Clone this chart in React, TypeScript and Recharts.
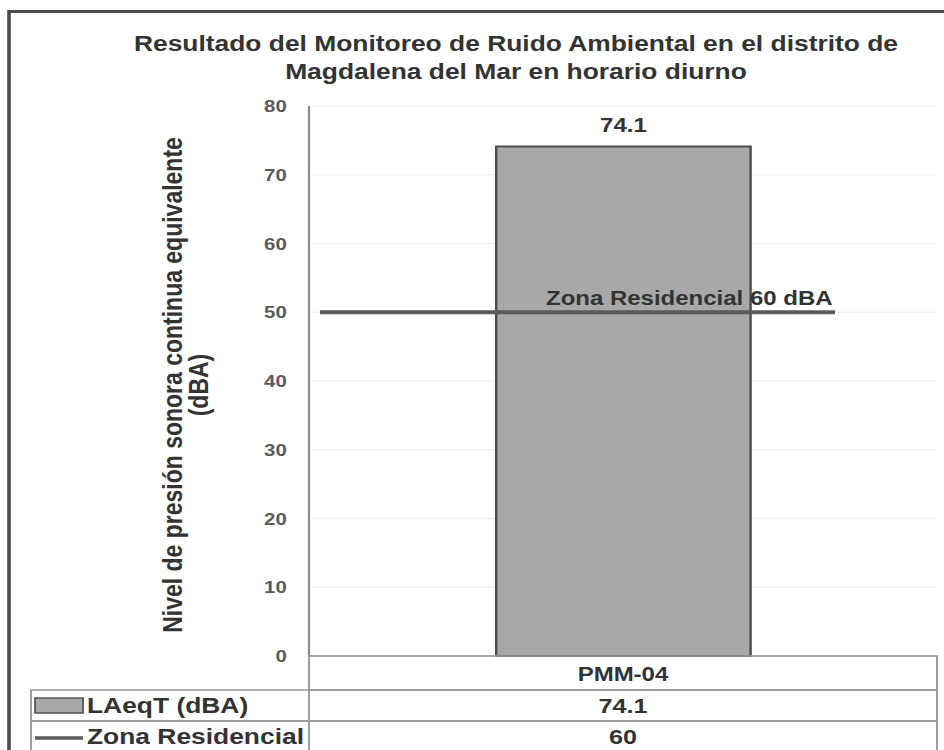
import React from 'react';
import { BarChart, Bar, XAxis, YAxis, CartesianGrid, ReferenceLine, LabelList } from 'recharts';

const categories = ['PMM-04'];
const laeqValues = [74.1];
const zonaResidencialValues = [60];
const zonaLineLevel = [50];
const yTicks = [0, 10, 20, 30, 40, 50, 60, 70, 80];
const seriesLabels = ['LAeqT (dBA)', 'Zona Residencial'];
const titleLines = [
  'Resultado del Monitoreo de Ruido Ambiental en el distrito de',
  'Magdalena del Mar en horario diurno',
];
const yTitleLines = ['Nivel de presión sonora continua equivalente', '(dBA)'];

const data = categories.map((c, i) => ({ name: c, laeq: laeqValues[i], zona: zonaResidencialValues[i] }));

const FONT = '"Liberation Sans", Arial, Helvetica, sans-serif';
const S = 1.2;
const W = 787;
const H = 750;
const PLOT_L = 257.5;
const PLOT_R = 780.8;
const PLOT_T = 106;
const PLOT_B = 656;
const YAXIS_W = 60;

const ZonaShape = (props: any) => {
  const { x1, x2, y1 } = props;
  const w = x2 - x1;
  const sx = x1 + w * 0.0176;
  const ex = x1 + w * 0.8376;
  return (
    <g>
      <line x1={sx} x2={ex} y1={y1} y2={y1} stroke="#5a5a5a" strokeWidth={4} />
      <text x={ex - 2} y={y1 - 7} textAnchor="end" fontFamily={FONT} fontWeight="bold" fontSize={20} fill="#333">
        {`${seriesLabels[1]} ${zonaResidencialValues[0]} dBA`}
      </text>
    </g>
  );
};

export default function App() {
  const rowTops = [PLOT_B, 690, 721, 752];
  const tableL = 25.8;
  const colX = PLOT_L;
  const valCenter = (PLOT_L + PLOT_R) / 2;
  return (
    <div style={{ position: 'absolute', left: 0, top: 0, width: 944, height: 750, overflow: 'hidden', background: '#fff' }}>
      <div style={{ position: 'absolute', left: 0, top: 0, width: W, height: H, transform: `scaleX(${S})`, transformOrigin: '0 0' }}>
        <div style={{ position: 'absolute', left: 5.8, top: 10, width: 900, height: 900, border: '3px solid #4d4d4d', boxSizing: 'border-box' }} />
        <div style={{ position: 'absolute', left: 0, top: 0 }}>
          <BarChart
            width={W}
            height={H}
            data={data}
            margin={{ top: PLOT_T, bottom: H - PLOT_B, left: PLOT_L - YAXIS_W, right: W - PLOT_R }}
            barSize={212}
          >
            <CartesianGrid vertical={false} stroke="#ececec" />
            <XAxis dataKey="name" hide />
            <YAxis
              type="number"
              domain={[0, 80]}
              ticks={yTicks}
              width={YAXIS_W}
              tickLine={false}
              tickSize={0}
              tickMargin={18.5}
              axisLine={{ stroke: '#8c8c8c', strokeWidth: 1.8 }}
              tick={{ fill: '#5a5a5a', fontFamily: FONT, fontWeight: 'bold', fontSize: 17 }}
            />
            <Bar dataKey="laeq" fill="#a8a8a8" stroke="#4d4d4d" strokeWidth={2} isAnimationActive={false}>
              <LabelList dataKey="laeq" position="top" offset={15} fill="#333" fontFamily={FONT} fontWeight="bold" fontSize={20} />
            </Bar>
            <ReferenceLine y={zonaLineLevel[0]} shape={ZonaShape} ifOverflow="extendDomain" />
          </BarChart>
        </div>
        <svg width={W} height={H} style={{ position: 'absolute', left: 0, top: 0, pointerEvents: 'none' }}>
          <text x={430} y={51} textAnchor="middle" fontFamily={FONT} fontWeight="bold" fontSize={22} fill="#333">{titleLines[0]}</text>
          <text x={430} y={79} textAnchor="middle" fontFamily={FONT} fontWeight="bold" fontSize={22} fill="#333">{titleLines[1]}</text>
          <text x={151.7} y={385} transform="rotate(-90 151.7 385)" textAnchor="middle" fontFamily={FONT} fontWeight="bold" fontSize={23} fill="#333">{yTitleLines[0]}</text>
          <text x={173} y={385} transform="rotate(-90 173 385)" textAnchor="middle" fontFamily={FONT} fontWeight="bold" fontSize={23} fill="#333">{yTitleLines[1]}</text>
          {/* data table */}
          <g fill="none" stroke="#9a9a9a" strokeWidth={1.6}>
            <rect x={colX} y={rowTops[0]} width={PLOT_R - colX} height={rowTops[1] - rowTops[0]} />
            <rect x={tableL} y={rowTops[1]} width={PLOT_R - tableL} height={rowTops[2] - rowTops[1]} />
            <rect x={tableL} y={rowTops[2]} width={PLOT_R - tableL} height={rowTops[3] - rowTops[2]} />
            <line x1={colX} x2={colX} y1={rowTops[1]} y2={rowTops[3]} />
          </g>
          <text x={valCenter} y={681} textAnchor="middle" fontFamily={FONT} fontWeight="bold" fontSize={20} fill="#333">{categories[0]}</text>
          <rect x={29.2} y={698} width={40} height={15} fill="#a8a8a8" stroke="#555" strokeWidth={1.5} />
          <text x={72.5} y={713} fontFamily={FONT} fontWeight="bold" fontSize={22} fill="#333">{seriesLabels[0]}</text>
          <text x={valCenter} y={713} textAnchor="middle" fontFamily={FONT} fontWeight="bold" fontSize={21} fill="#333">{laeqValues[0]}</text>
          <line x1={29.2} x2={69.2} y1={738} y2={738} stroke="#5a5a5a" strokeWidth={3.5} />
          <text x={72.5} y={744} fontFamily={FONT} fontWeight="bold" fontSize={22} fill="#333">{seriesLabels[1]}</text>
          <text x={valCenter} y={744} textAnchor="middle" fontFamily={FONT} fontWeight="bold" fontSize={21} fill="#333">{zonaResidencialValues[0]}</text>
        </svg>
      </div>
    </div>
  );
}
